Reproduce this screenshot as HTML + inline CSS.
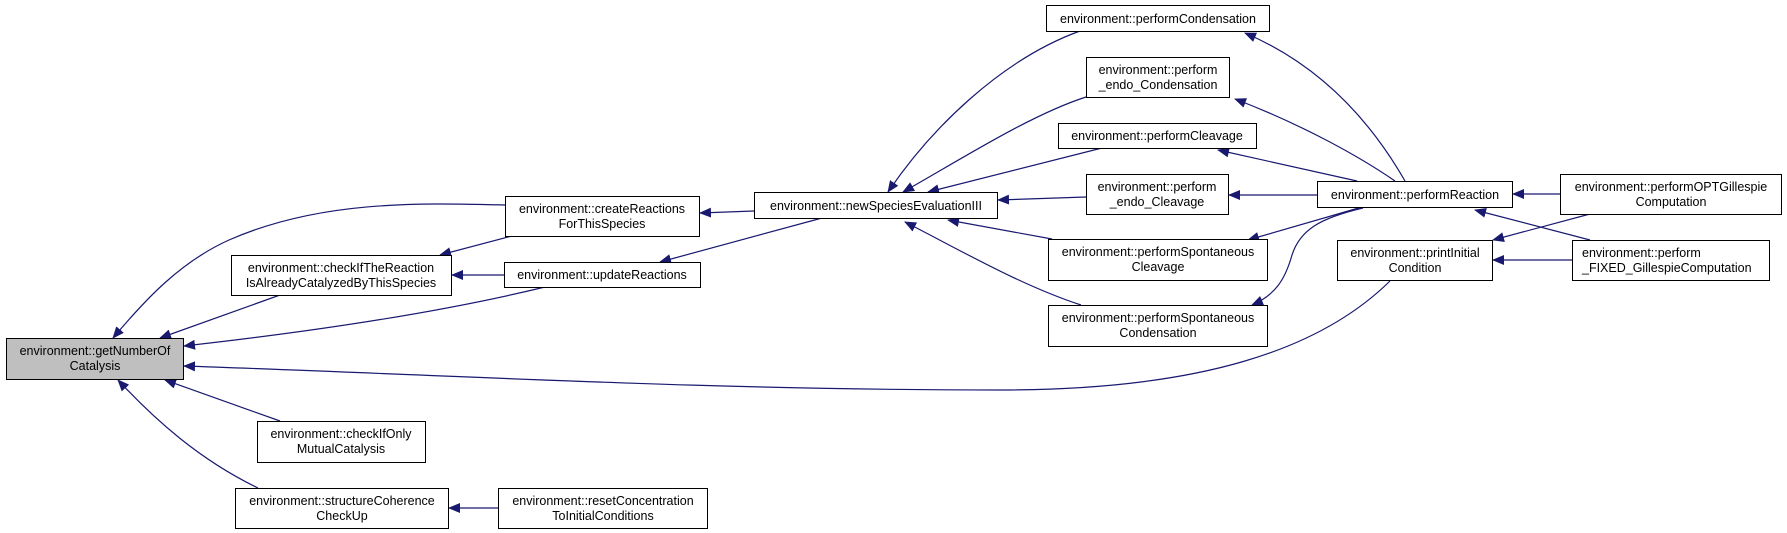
<!DOCTYPE html>
<html><head><meta charset="utf-8"><style>
html,body{margin:0;padding:0;background:#fff;}
svg{display:block;}
text{font-family:"Liberation Sans",sans-serif;font-size:12.5px;fill:#000;}
</style></head><body>
<svg width="1787" height="533" viewBox="0 0 1787 533" xmlns="http://www.w3.org/2000/svg">
<defs>
<marker id="a" markerWidth="12" markerHeight="10" refX="11" refY="5" orient="auto" markerUnits="userSpaceOnUse">
<path d="M0,0 L12,5 L0,10 z" fill="#191970"/>
</marker>
</defs>
<g fill="none" stroke="#191970" stroke-width="1.2" marker-end="url(#a)">
<path d="M505,205 C420,203 320,200 229,240 C180,262 145,300 113,338"/>
<path d="M280,295 L160,338"/>
<path d="M545,287 C430,315 300,333 184,346"/>
<path d="M1390,281 C1320,350 1200,390 1000,390 C700,390 450,375 184,366"/>
<path d="M280,421 L165,380"/>
<path d="M258,488 C200,460 155,420 118,380"/>
<path d="M512,236 L440,255"/>
<path d="M504,275 L452,275"/>
<path d="M754,211 L700,213"/>
<path d="M822,218 L660,262"/>
<path d="M498,508 L449,508"/>
<path d="M1080,31 C1000,60 930,130 888,192"/>
<path d="M1086,97 C1030,115 960,160 903,192"/>
<path d="M1102,148 L928,192"/>
<path d="M1086,197 L998,200"/>
<path d="M1052,239 L948,220"/>
<path d="M1081,305 C1020,285 960,250 905,222"/>
<path d="M1405,181 C1370,120 1320,65 1245,33"/>
<path d="M1395,181 C1350,150 1290,120 1235,99"/>
<path d="M1357,181 L1218,150"/>
<path d="M1317,195 L1229,195"/>
<path d="M1362,207 L1248,240"/>
<path d="M1363,208 C1320,218 1300,230 1292,255 C1285,280 1275,295 1252,305"/>
<path d="M1560,194 L1513,194"/>
<path d="M1590,240 L1475,210"/>
<path d="M1590,214 L1493,240"/>
<path d="M1572,260 L1493,260"/>
</g>
<g stroke="#000" stroke-width="1">
<rect x="6.5" y="338.5" width="177" height="41" fill="#bfbfbf"/>
<g fill="#fff">
<rect x="505.5" y="196.5" width="194" height="40"/>
<rect x="231.5" y="255.5" width="220" height="40"/>
<rect x="504.5" y="262.5" width="196" height="25"/>
<rect x="257.5" y="421.5" width="168" height="41"/>
<rect x="235.5" y="488.5" width="213" height="40"/>
<rect x="498.5" y="488.5" width="209" height="40"/>
<rect x="754.5" y="192.5" width="243" height="26"/>
<rect x="1046.5" y="5.5" width="223" height="26"/>
<rect x="1086.5" y="57.5" width="143" height="40"/>
<rect x="1058.5" y="123.5" width="198" height="25"/>
<rect x="1086.5" y="174.5" width="142" height="40"/>
<rect x="1048.5" y="239.5" width="219" height="41"/>
<rect x="1048.5" y="305.5" width="219" height="41"/>
<rect x="1317.5" y="181.5" width="195" height="26"/>
<rect x="1337.5" y="240.5" width="155" height="40"/>
<rect x="1560.5" y="174.5" width="221" height="40"/>
<rect x="1572.5" y="240.5" width="197" height="40"/>
</g>
</g>
<g text-anchor="middle">
<text x="95" y="355">environment::getNumberOf</text><text x="95" y="370">Catalysis</text>
<text x="602" y="213">environment::createReactions</text><text x="602" y="228">ForThisSpecies</text>
<text x="341" y="272">environment::checkIfTheReaction</text><text x="341" y="287">IsAlreadyCatalyzedByThisSpecies</text>
<text x="602" y="279">environment::updateReactions</text>
<text x="341" y="438">environment::checkIfOnly</text><text x="341" y="453">MutualCatalysis</text>
<text x="342" y="505">environment::structureCoherence</text><text x="342" y="520">CheckUp</text>
<text x="603" y="505">environment::resetConcentration</text><text x="603" y="520">ToInitialConditions</text>
<text x="876" y="210">environment::newSpeciesEvaluationIII</text>
<text x="1158" y="23">environment::performCondensation</text>
<text x="1158" y="74">environment::perform</text><text x="1158" y="89">_endo_Condensation</text>
<text x="1157" y="140">environment::performCleavage</text>
<text x="1157" y="191">environment::perform</text><text x="1157" y="206">_endo_Cleavage</text>
<text x="1158" y="256">environment::performSpontaneous</text><text x="1158" y="271">Cleavage</text>
<text x="1158" y="322">environment::performSpontaneous</text><text x="1158" y="337">Condensation</text>
<text x="1415" y="199">environment::performReaction</text>
<text x="1415" y="257">environment::printInitial</text><text x="1415" y="272">Condition</text>
<text x="1671" y="191">environment::performOPTGillespie</text><text x="1671" y="206">Computation</text>
</g>
<text x="1582" y="257">environment::perform</text><text x="1582" y="272">_FIXED_GillespieComputation</text>
</svg>
</body></html>
